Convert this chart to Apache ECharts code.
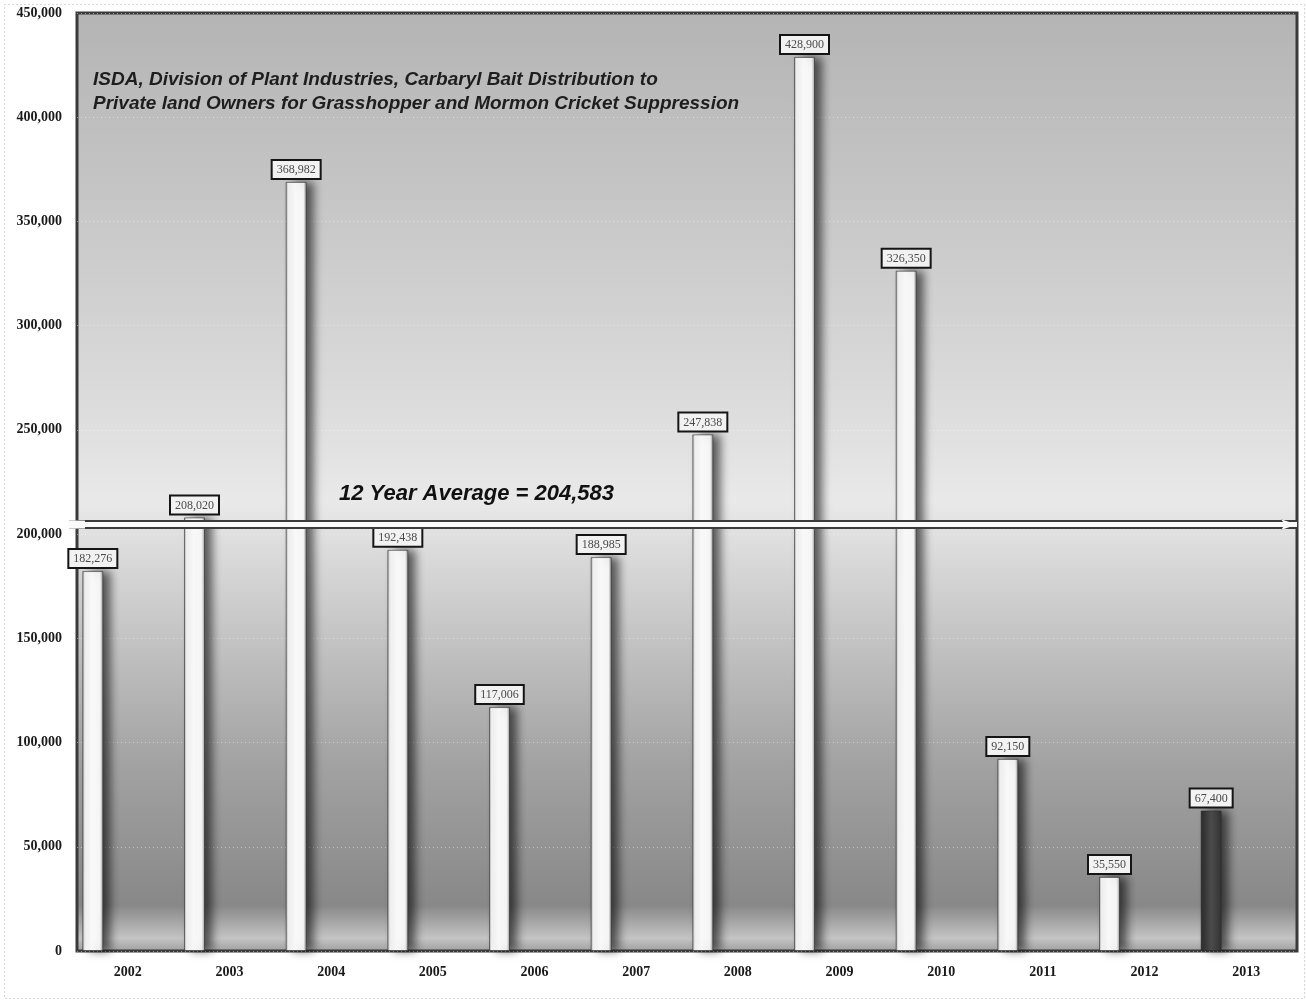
<!DOCTYPE html>
<html>
<head>
<meta charset="utf-8">
<script src="https://cdn.jsdelivr.net/npm/echarts@6/dist/echarts.min.js"></script>
<style>
  html, body { margin: 0; padding: 0; background: #ffffff; }
  #chart { width: 1306px; height: 1000px; }
</style>
</head>
<body>
<div id="chart"></div>
<script>
// Carbaryl bait distributed per year (lbs)
const years = ['2002', '2003', '2004', '2005', '2006', '2007', '2008', '2009', '2010', '2011', '2012', '2013'];
const baitValues = [182276, 208020, 368982, 192438, 117006, 188985, 247838, 428900, 326350, 92150, 35550, 67400];
const averageValue = 204583;
const averageText = '12 Year Average = 204,583';
const titleLines = [
  'ISDA, Division of Plant Industries, Carbaryl Bait Distribution to',
  'Private land Owners for Grasshopper and Mormon Cricket Suppression'
];
const currentYear = '2013';

const fmt = v => v.toLocaleString('en-US');

// open chevron used for both ends of the average arrow
const chevron = 'path://M0,10 L5,0 L10,10 L8.2,10 L5,3.6 L1.8,10 Z';

const lightBar = new echarts.graphic.LinearGradient(0, 0, 1, 0, [
  { offset: 0, color: '#9a9a9a' },
  { offset: 0.12, color: '#f2f2f2' },
  { offset: 0.45, color: '#ffffff' },
  { offset: 0.85, color: '#f4f4f4' },
  { offset: 1, color: '#8c8c8c' }
]);
const darkBar = new echarts.graphic.LinearGradient(0, 0, 1, 0, [
  { offset: 0, color: '#2a2a2a' },
  { offset: 0.5, color: '#4e4e4e' },
  { offset: 1, color: '#333333' }
]);

const barData = baitValues.map((v, i) => ({
  value: v,
  itemStyle: { color: years[i] === currentYear ? darkBar : lightBar }
}));

const chart = echarts.init(document.getElementById('chart'));
chart.setOption({
  animation: false,
  backgroundColor: '#ffffff',
  title: {
    text: titleLines.join('\n'),
    left: 88,
    top: 63,
    textStyle: {
      fontFamily: '"Liberation Sans", Arial, sans-serif',
      fontStyle: 'italic',
      fontWeight: 'bold',
      fontSize: 19,
      lineHeight: 24,
      color: '#1e1e1e'
    }
  },
  graphic: [{
    type: 'rect',
    left: 2, top: 2,
    shape: { width: 1300, height: 994 },
    style: { fill: 'none', stroke: '#b0b0b0', lineWidth: 1, lineDash: [1, 3] },
    silent: true,
    z: -10
  }],
  grid: {
    left: 77,
    right: 9,
    top: 13,
    bottom: 49,
    show: true,
    borderColor: '#3a3a3a',
    borderWidth: 3,
    backgroundColor: new echarts.graphic.LinearGradient(0, 0, 0, 1, [
      { offset: 0, color: '#b4b4b4' },
      { offset: 0.18, color: '#c4c4c4' },
      { offset: 0.42, color: '#dcdcdc' },
      { offset: 0.52, color: '#e9e9e9' },
      { offset: 0.62, color: '#cfcfcf' },
      { offset: 0.8, color: '#a2a2a2' },
      { offset: 0.95, color: '#888888' },
      { offset: 0.985, color: '#c4c4c4' },
      { offset: 1, color: '#9c9c9c' }
    ])
  },
  xAxis: {
    type: 'category',
    data: years,
    axisLine: { show: false },
    axisTick: { show: false },
    axisLabel: {
      margin: 14,
      fontFamily: '"Liberation Serif", "DejaVu Serif", serif',
      fontWeight: 'bold',
      fontSize: 14,
      color: '#1a1a1a'
    }
  },
  yAxis: {
    type: 'value',
    min: 0,
    max: 450000,
    interval: 50000,
    axisLine: { show: false },
    axisTick: { show: false },
    axisLabel: {
      margin: 15,
      formatter: v => fmt(v),
      fontFamily: '"Liberation Serif", "DejaVu Serif", serif',
      fontWeight: 'bold',
      fontSize: 14,
      color: '#1a1a1a'
    },
    splitLine: {
      show: true,
      lineStyle: { color: 'rgba(255,255,255,0.45)', type: [1, 3], width: 1 }
    }
  },
  series: [
    {
      name: 'Carbaryl bait',
      type: 'bar',
      data: barData,
      barWidth: 21,
      barGap: '0%',
      z: 3,
      itemStyle: {
        borderColor: 'rgba(40,40,40,0.55)',
        borderWidth: 1,
        shadowColor: 'rgba(0,0,0,0.6)',
        shadowBlur: 10,
        shadowOffsetX: 7
      },
      label: {
        show: true,
        position: 'top',
        distance: 4,
        formatter: p => fmt(p.value),
        backgroundColor: '#f2f2f2',
        borderColor: '#151515',
        borderWidth: 2,
        padding: [3, 4, 2, 4],
        fontFamily: '"Liberation Serif", "DejaVu Serif", serif',
        fontSize: 12,
        color: '#4a4a4a'
      }
    },
    {
      // spacer column that shifts the visible bars toward the left of each slot,
      // and carries the 12-year average line
      name: 'spacer',
      type: 'bar',
      data: [],
      barWidth: 70,
      z: 6,
      silent: true,
      markLine: {
        silent: true,
        data: [
          {
            yAxis: averageValue,
            symbol: ['none', 'none'],
            lineStyle: { color: '#3a3a3a', width: 9, type: 'solid' },
            label: {
              show: true,
              position: 'insideStartTop',
              distance: [262, 20],
              formatter: averageText,
              fontFamily: '"Liberation Sans", Arial, sans-serif',
              fontStyle: 'italic',
              fontWeight: 'bold',
              fontSize: 22,
              color: '#111111'
            }
          },
          {
            yAxis: averageValue,
            symbol: ['none', 'none'],
            lineStyle: { color: '#fafafa', width: 5, type: 'solid' },
            label: { show: false }
          },
          {
            yAxis: averageValue,
            symbol: [chevron, chevron],
            symbolSize: [18, 12],
            symbolOffset: [0, 0],
            lineStyle: { color: '#3a3a3a', width: 0, opacity: 0 },
            itemStyle: { color: '#3a3a3a', opacity: 1 },
            label: { show: false }
          }
        ]
      }
    }
  ]
});
</script>
</body>
</html>
